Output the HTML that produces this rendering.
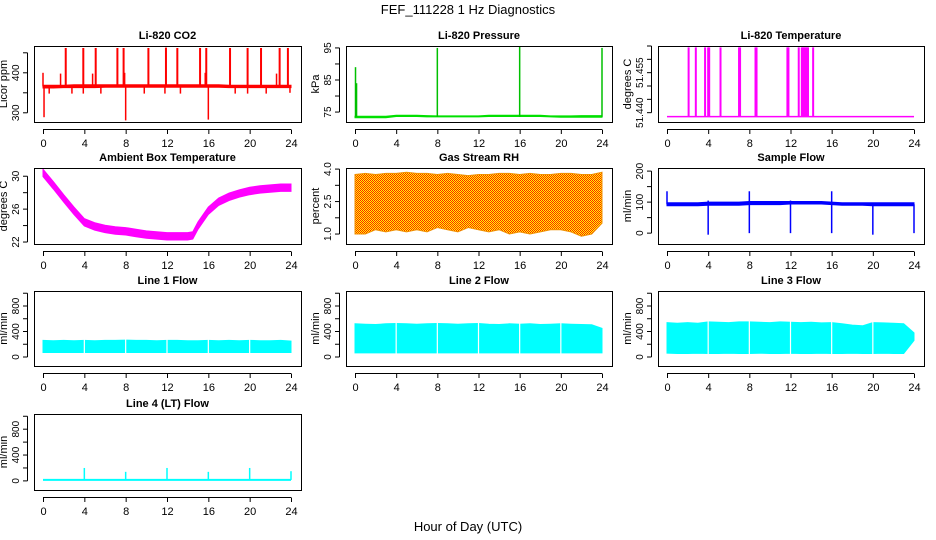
<!DOCTYPE html>
<html><head><meta charset="utf-8"><style>
html,body{margin:0;padding:0;background:#fff;}
svg{display:block;font-family:"Liberation Sans",sans-serif;}
</style></head><body>
<svg id="c" width="936" height="540" viewBox="0 0 936 540">
<defs><pattern id="rh" width="2" height="2" patternUnits="userSpaceOnUse"><rect width="2" height="2" fill="#ffff00"/><rect width="1" height="1" fill="#ff2000"/><rect x="1" y="1" width="1" height="1" fill="#ff2000"/></pattern></defs>
<text x="468" y="14" text-anchor="middle" font-size="13">FEF_111228  1 Hz Diagnostics</text>
<text x="468" y="531" text-anchor="middle" font-size="13">Hour of Day (UTC)</text>
</svg>
<script>
// ---- data ----
const xTicks = [0,4,8,12,16,20,24];
const hours = [0,1,2,3,4,5,6,7,8,9,10,11,12,13,14,15,16,17,18,19,20,21,22,23,24];
const co2Lo = [362,362,363,363,363,363,364,364,364,364,364,364,364,364,364,364,364,364,363,363,363,363,363,363,363];
const co2Hi = [369,369,369,370,370,370,370,370,370,370,370,370,370,370,370,370,370,370,369,369,369,369,369,369,369];
const co2SpikeHours = [2.2,3.9,5.1,7.2,7.8,10.2,11.9,13.0,15.2,15.8,18.1,19.8,21.1,22.9,23.7];
const co2SpikeValues = [462,462,462,462,462,462,463,462,462,462,462,462,462,462,462];
const co2SmallHours = [0.0,1.7,4.8,7.9,15.7,22.6,0.6,2.8,3.9,5.6,9.8,11.8,13.3,18.6,19.8,21.6,23.9,0.1,8.0,16.0];
const co2SmallValues = [400,398,398,400,400,398,348,348,348,348,348,348,348,348,348,348,350,289,281,283];
const presLo = [73.2,73.2,73.2,73.2,73.6,73.6,73.6,73.5,73.5,73.5,73.5,73.5,73.5,73.6,73.6,73.6,73.6,73.6,73.6,73.5,73.4,73.4,73.4,73.4,73.4];
const presHi = [73.7,73.7,73.7,73.7,74.0,74.0,74.0,73.9,73.8,73.8,73.8,73.8,73.8,74.0,74.0,74.0,74.0,74.0,74.0,73.8,73.8,73.8,73.9,73.9,73.9];
const presSpikeHours = [0.05,0.15,8.0,16.0,24.0];
const presSpikeValues = [89,84,95,95.6,95];
const tempBase = 51.4385;
const tempSpikeHours = [2.1,2.8,3.7,4.0,4.1,5.2,7.0,7.1,8.6,8.7,11.7,11.8,12.8,13.1,13.2,13.3,13.4,13.5,13.6,13.7,14.2];
const tempSpikeValue = 51.4645;
const ambHours = [0,1,2,3,4,5,6,7,8,9,10,11,12,13,14,14.5,15,16,17,18,19,20,21,22,23,24];
const ambMid = [30.4,28.9,27.3,25.8,24.4,23.9,23.6,23.4,23.3,23.1,22.9,22.8,22.7,22.7,22.7,22.8,24.0,25.8,26.9,27.5,27.9,28.2,28.4,28.5,28.6,28.6];
const ambHalf = 0.45;
const rhLo = [1.0,1.0,1.2,1.1,1.2,1.1,1.2,1.1,1.3,1.2,1.1,1.3,1.2,1.1,1.2,1.0,1.1,1.0,1.1,1.2,1.2,1.1,0.9,1.0,1.5];
const rhHi = [3.75,3.8,3.75,3.8,3.8,3.85,3.8,3.8,3.75,3.8,3.75,3.7,3.75,3.75,3.8,3.8,3.75,3.8,3.75,3.75,3.8,3.8,3.75,3.75,3.85];
const sfLo = [88,88,88,88,90,90,90,90,92,92,92,92,94,94,94,94,92,90,90,90,88,88,88,88,88];
const sfHi = [98,98,98,98,100,100,100,100,102,102,102,102,102,102,102,102,100,98,98,98,98,98,98,98,98];
const sfSpikeHours = [0,8,16,4,12,4,8,12,16,20,24];
const sfSpikeValues = [135,135,135,105,105,-5,0,0,0,-5,0];
const flowGaps = [4,8,12,16,20];
const l1Lo = [70,70,70,70,70,70,70,70,70,70,70,70,70,70,70,70,70,70,70,70,70,70,70,70,70];
const l1Hi = [260,255,260,255,260,255,260,260,265,260,260,255,260,260,255,255,260,255,260,255,260,255,255,260,250];
const l2Lo = [65,65,65,65,65,65,65,65,65,65,65,65,65,65,65,65,65,65,65,65,65,65,65,65,65];
const l2Hi = [520,515,510,520,525,520,515,520,525,520,515,520,525,515,510,520,515,520,510,515,520,515,510,505,450];
const l3Lo = [60,55,55,60,55,55,60,55,55,60,55,55,60,55,55,60,55,55,60,55,55,60,55,55,260];
const l3Hi = [540,530,540,530,550,545,540,550,550,545,540,550,545,540,545,535,540,520,500,490,540,535,530,520,380];
const l4Base = 15;
const l4SpikeHours = [4,8,12,16,20,24];
const l4SpikeValues = [200,140,200,140,200,150];

// ---- layout ----
const svg = document.getElementById('c');
const NS = 'http://www.w3.org/2000/svg';
const colL = [34,346,658], colR = [301,612,924];
const rowT = [46,168,291,414], rowB = [122,244,366,490];
function mk(tag, attrs, parent){const e=document.createElementNS(NS,tag);for(const k in attrs)e.setAttribute(k,attrs[k]);(parent||svg).appendChild(e);return e;}

function panel(col,row,title,ylab,ylim,yt,ylabels,name){
  const L=colL[col],R=colR[col],T=rowT[row],B=rowB[row];
  const x0=L+9,x1=R-10;
  const g=mk('g',{});
  
  
  const xs=h=>x0+(h/24)*(x1-x0);
  const ys=v=>B-(v-ylim[0])/(ylim[1]-ylim[0])*(B-T);
  const plot=mk('g',{},g);
  const box=mk('rect',{x:L+0.5,y:T+0.5,width:R-L,height:B-T,fill:'none',stroke:'#000','stroke-width':1},g);
  
  
  const t=mk('text',{x:(L+R)/2,y:T-7,'text-anchor':'middle','font-size':11,'font-weight':'bold'},g);
  t.textContent=title;
  
  
  const xa=mk('g',{},g);
  
  
  mk('line',{x1:xs(0),x2:xs(24),y1:B+7.5,y2:B+7.5,stroke:'#000'},xa);
  xTicks.forEach(v=>{mk('line',{x1:xs(v)+0.5,x2:xs(v)+0.5,y1:B+7.5,y2:B+12,stroke:'#000'},xa);
    const tx=mk('text',{x:xs(v)+0.5,y:B+25,'text-anchor':'middle','font-size':11},xa);tx.textContent=String(v);});
  const ya=mk('g',{},g);
  
  
  mk('line',{x1:L-6.5,x2:L-6.5,y1:ys(yt[0]),y2:ys(yt[yt.length-1]),stroke:'#000'},ya);
  yt.forEach((v,i)=>{const y=ys(v);mk('line',{x1:L-11,x2:L-6.5,y1:y,y2:y,stroke:'#000'},ya);
    if(ylabels[i]){const tx=mk('text',{x:0,y:0,'text-anchor':'middle','font-size':10,transform:`translate(${L-15},${y}) rotate(-90)`},ya);tx.textContent=ylabels[i];}});
  const yl=mk('text',{x:0,y:0,'text-anchor':'middle','font-size':11,transform:`translate(${L-27},${(T+B)/2}) rotate(-90)`},g);
  yl.textContent=ylab;
  
  
  return {g:plot,xs,ys};
}
function band(p,hs,lo,hi,fill,name){
  let d='M'+hs.map((h,i)=>p.xs(h).toFixed(1)+','+p.ys(hi[i]).toFixed(1)).join('L');
  for(let i=hs.length-1;i>=0;i--)d+='L'+p.xs(hs[i]).toFixed(1)+','+p.ys(lo[i]).toFixed(1);
  const e=mk('path',{d:d+'Z',fill:fill,stroke:fill==='url(#rh)'?'#f09000':fill,'stroke-width':1},p.g);
  
  
}
function spikes(p,hs,vals,base,color,w,name){
  hs.forEach((h,i)=>{const e=mk('line',{x1:p.xs(h),x2:p.xs(h),y1:p.ys(base),y2:p.ys(vals[i]),stroke:color,'stroke-width':w||1.5},p.g);
    
    });
}
function gaps(p,hs,lo,hi,name){
  hs.forEach(h=>{const e=mk('line',{x1:p.xs(h),x2:p.xs(h),y1:p.ys(hi),y2:p.ys(lo),stroke:'#fff','stroke-width':1.2},p.g);
    
    });
}

let p=panel(0,0,'Li-820 CO2','Licor ppm',[277,467],[300,350,400,450],['300','','400',''],'co2');
band(p,hours,co2Lo,co2Hi,'#ff0000','co2-series');
spikes(p,co2SpikeHours,co2SpikeValues,366,'#ff0000',2,'co2-spike');
spikes(p,co2SmallHours,co2SmallValues,366,'#ff0000',1.5,'co2-spike');
p=panel(1,0,'Li-820 Pressure','kPa',[71.9,95.6],[75,80,85,90,95],['75','','85','','95'],'pressure');
band(p,hours,presLo,presHi,'#00e000','pressure-series');
spikes(p,presSpikeHours,presSpikeValues,73.5,'#00c000',1.5,'pressure-spike');
p=panel(2,0,'Li-820 Temperature','degrees C',[51.4365,51.465],[51.44,51.445,51.45,51.455,51.46,51.465],['51.440','','','51.455','',''],'li820-temperature');
const tl=mk('line',{x1:p.xs(0),x2:p.xs(24),y1:p.ys(tempBase),y2:p.ys(tempBase),stroke:'#ff00ff','stroke-width':1.5},p.g);


spikes(p,tempSpikeHours,tempSpikeHours.map(()=>tempSpikeValue),tempBase,'#ff00ff',2,'li820-temperature-spike');
p=panel(0,1,'Ambient Box Temperature','degrees C',[21.76,31.0],[22,24,26,28,30],['22','','26','','30'],'ambient-temperature');
band(p,ambHours,ambMid.map(v=>v-ambHalf),ambMid.map(v=>v+ambHalf),'#ff00ff','ambient-temperature-series');
p=panel(1,1,'Gas Stream RH','percent',[0.54,4.05],[1.0,1.75,2.5,3.25,4.0],['1.0','','2.5','','4.0'],'gas-rh');
band(p,hours,rhLo,rhHi,'url(#rh)','gas-rh-series');
p=panel(2,1,'Sample Flow','ml/min',[-35,210],[0,50,100,150,200],['0','','100','','200'],'sample-flow');
band(p,hours,sfLo,sfHi,'#0000ff','sample-flow-series');
spikes(p,sfSpikeHours,sfSpikeValues,93,'#0000ff',1.5,'sample-flow-spike');
const fTicks=[0,200,400,600,800,1000], fLab=['0','','400','','800',''], fLim=[-141,1035];
p=panel(0,2,'Line 1 Flow','ml/min',fLim,fTicks,fLab,'line1-flow');
band(p,hours,l1Lo,l1Hi,'#00ffff','line1-flow-series');gaps(p,flowGaps,40,300,'line1-flow-gap');
p=panel(1,2,'Line 2 Flow','ml/min',fLim,fTicks,fLab,'line2-flow');
band(p,hours,l2Lo,l2Hi,'#00ffff','line2-flow-series');gaps(p,flowGaps,40,560,'line2-flow-gap');
p=panel(2,2,'Line 3 Flow','ml/min',fLim,fTicks,fLab,'line3-flow');
band(p,hours,l3Lo,l3Hi,'#00ffff','line3-flow-series');gaps(p,flowGaps,30,580,'line3-flow-gap');
p=panel(0,3,'Line 4 (LT) Flow','ml/min',fLim,fTicks,fLab,'line4-flow');
const l4=mk('line',{x1:p.xs(0),x2:p.xs(24),y1:p.ys(l4Base),y2:p.ys(l4Base),stroke:'#00ffff','stroke-width':2},p.g);


spikes(p,l4SpikeHours,l4SpikeValues,l4Base,'#00ffff',1.5,'line4-flow-spike');
</script>
</body></html>
